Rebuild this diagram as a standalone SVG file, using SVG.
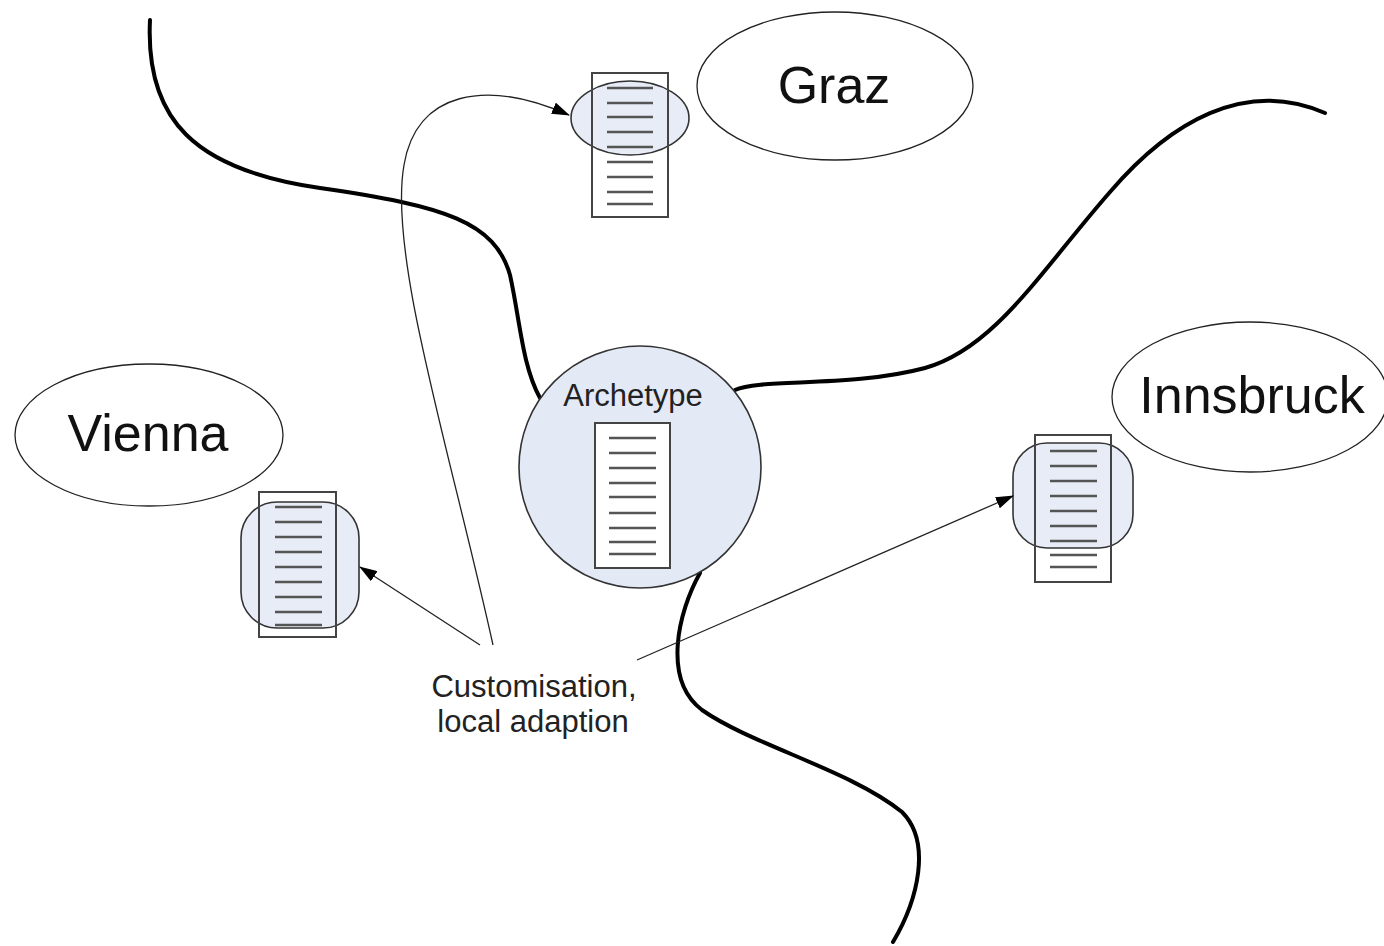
<svg xmlns="http://www.w3.org/2000/svg" width="1384" height="946" viewBox="0 0 1384 946">
  <style>
    .city { fill: #ffffff; stroke: #222; stroke-width: 1.3; }
    .city-label { font-family: "Liberation Sans", Arial, sans-serif; font-size: 52px; fill: #111; text-anchor: middle; }
    .label { font-family: "Liberation Sans", Arial, sans-serif; font-size: 31px; fill: #222; text-anchor: middle; }
    .blob { fill: #e4eaf5; stroke: #333; stroke-width: 1.6; }
    .doc { fill: none; stroke: #444; stroke-width: 2; }
    .docbg { fill: #ffffff; stroke: #444; stroke-width: 2; }
    .rule { stroke: #555; stroke-width: 2.4; }
    .river { fill: none; stroke: #000; stroke-width: 4; stroke-linecap: round; }
    .link { fill: none; stroke: #222; stroke-width: 1.3; }
  </style>
  <defs>
    <marker id="arrow" viewBox="0 0 18 12" refX="17" refY="6" markerWidth="18" markerHeight="12" markerUnits="userSpaceOnUse" orient="auto">
      <path d="M0,0 L18,6 L0,12 z" fill="#000"/>
    </marker>
  </defs>

  <rect width="1384" height="946" fill="#ffffff"/>

  <!-- thick boundary curves -->
  <g id="rivers">
    <path class="river" d="M150,20 C145,120 195,170 320,188 C445,206 495,222 510,275 C520,320 522,365 540,398"/>
    <path class="river" d="M735,390 C760,378 850,388 925,368 C995,348 1040,272 1110,192 C1170,122 1245,78 1325,113"/>
    <path class="river" d="M700,573 C678,612 662,680 702,710 C752,745 850,770 902,812 C932,842 918,900 893,942"/>
  </g>

  <!-- city ellipses -->
  <g id="graz">
    <ellipse class="city" cx="835" cy="86" rx="138" ry="74"/>
    <text class="city-label" x="834" y="103">Graz</text>
  </g>
  <g id="vienna">
    <ellipse class="city" cx="149" cy="435" rx="134" ry="71"/>
    <text class="city-label" x="148" y="451">Vienna</text>
  </g>
  <g id="innsbruck">
    <ellipse class="city" cx="1250" cy="397" rx="138" ry="75"/>
    <text class="city-label" x="1252" y="413">Innsbruck</text>
  </g>

  <!-- central archetype -->
  <g id="archetype">
    <circle class="blob" cx="640" cy="467" r="121"/>
    <text class="label" x="633" y="406" font-size="30">Archetype</text>
    <rect class="docbg" x="595" y="423" width="75" height="145"/>
    <g class="rule">
      <line x1="609" y1="438" x2="656" y2="438"/>
      <line x1="609" y1="453" x2="656" y2="453"/>
      <line x1="609" y1="468" x2="656" y2="468"/>
      <line x1="609" y1="483" x2="656" y2="483"/>
      <line x1="609" y1="497" x2="656" y2="497"/>
      <line x1="609" y1="513" x2="656" y2="513"/>
      <line x1="609" y1="528" x2="656" y2="528"/>
      <line x1="609" y1="542" x2="656" y2="542"/>
      <line x1="609" y1="554" x2="656" y2="554"/>
    </g>
  </g>

  <!-- local copy: Graz -->
  <g id="graz-copy">
    <rect class="docbg" x="592" y="73" width="76" height="144"/>
    <ellipse class="blob" cx="630" cy="118" rx="59" ry="37" fill-opacity="0.9"/>
    <rect class="doc" x="592" y="73" width="76" height="144"/>
    <g class="rule">
      <line x1="607" y1="88" x2="653" y2="88"/>
      <line x1="607" y1="103" x2="653" y2="103"/>
      <line x1="607" y1="117" x2="653" y2="117"/>
      <line x1="607" y1="132" x2="653" y2="132"/>
      <line x1="607" y1="147" x2="653" y2="147"/>
      <line x1="607" y1="162" x2="653" y2="162"/>
      <line x1="607" y1="177" x2="653" y2="177"/>
      <line x1="607" y1="192" x2="653" y2="192"/>
      <line x1="607" y1="204" x2="653" y2="204"/>
    </g>
  </g>

  <!-- local copy: Vienna -->
  <g id="vienna-copy">
    <rect class="docbg" x="259" y="492" width="77" height="145"/>
    <rect class="blob" x="241" y="502" width="118" height="126" rx="36" ry="36" fill-opacity="0.9"/>
    <rect class="doc" x="259" y="492" width="77" height="145"/>
    <g class="rule">
      <line x1="275" y1="507" x2="322" y2="507"/>
      <line x1="275" y1="522" x2="322" y2="522"/>
      <line x1="275" y1="537" x2="322" y2="537"/>
      <line x1="275" y1="552" x2="322" y2="552"/>
      <line x1="275" y1="567" x2="322" y2="567"/>
      <line x1="275" y1="582" x2="322" y2="582"/>
      <line x1="275" y1="597" x2="322" y2="597"/>
      <line x1="275" y1="612" x2="322" y2="612"/>
      <line x1="275" y1="625" x2="322" y2="625"/>
    </g>
  </g>

  <!-- local copy: Innsbruck -->
  <g id="innsbruck-copy">
    <rect class="docbg" x="1035" y="435" width="76" height="147"/>
    <rect class="blob" x="1013" y="443" width="120" height="105" rx="34" ry="34" fill-opacity="0.9"/>
    <rect class="doc" x="1035" y="435" width="76" height="147"/>
    <g class="rule">
      <line x1="1050" y1="451" x2="1097" y2="451"/>
      <line x1="1050" y1="466" x2="1097" y2="466"/>
      <line x1="1050" y1="481" x2="1097" y2="481"/>
      <line x1="1050" y1="496" x2="1097" y2="496"/>
      <line x1="1050" y1="511" x2="1097" y2="511"/>
      <line x1="1050" y1="526" x2="1097" y2="526"/>
      <line x1="1050" y1="541" x2="1097" y2="541"/>
      <line x1="1050" y1="555" x2="1097" y2="555"/>
      <line x1="1050" y1="567" x2="1097" y2="567"/>
    </g>
  </g>

  <!-- customisation connectors -->
  <g id="connectors">
    <path class="link" d="M493,645 C450,450 388,255 404,165 C416,92 485,78 569,115" marker-end="url(#arrow)"/>
    <path class="link" d="M480,645 L360,567" marker-end="url(#arrow)"/>
    <path class="link" d="M637,660 L1013,496" marker-end="url(#arrow)"/>
  </g>

  <g id="customisation-label">
    <text class="label" x="534" y="697">Customisation,</text>
    <text class="label" x="533" y="732">local adaption</text>
  </g>
</svg>
